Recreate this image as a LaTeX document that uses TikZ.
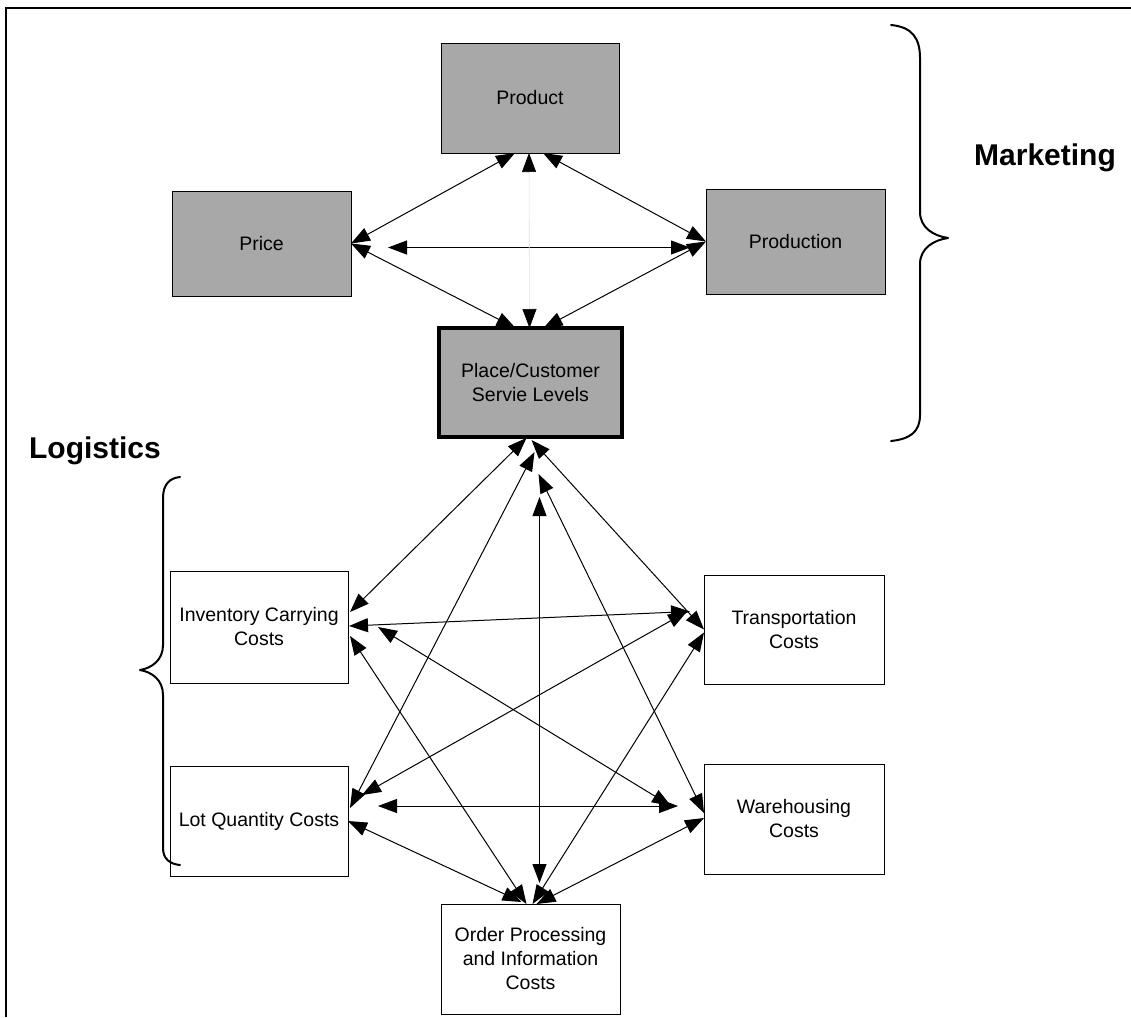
\documentclass[tikz,border=0pt]{standalone}
\usepackage{fontspec}
\setmainfont{Liberation Sans}
\usetikzlibrary{arrows.meta,calc}
\begin{document}
\begin{tikzpicture}[x=1pt,y=-1pt,
  box/.style={draw=black, line width=1pt, inner sep=0pt, outer sep=0pt, align=center,
              font=\fontsize{19.5}{24}\selectfont, fill=white},
  shaded/.style={box, fill=black!34},
  keybox/.style={shaded, line width=4pt},
  conn/.style={line width=1pt, {Triangle[length=19pt,width=14pt]}-{Triangle[length=19pt,width=14pt]}},
  faint/.style={line width=0.6pt, draw=black!12,
                {Triangle[length=19pt,width=14pt,color=black]}-{Triangle[length=19pt,width=14pt,color=black]}},
  heading/.style={font=\fontsize{30}{36}\selectfont\bfseries},
  brace/.style={line width=2pt, line cap=round, line join=round}]

% page area
\fill[white] (0,0) rectangle (1131,1017);
\useasboundingbox (0,0) rectangle (1131,1017);

% frame (top and left rules)
\draw[line width=1.8pt] (6,1017) -- (6,8) -- (1131,8);

% marketing mix boxes
\node[shaded, minimum width=178pt, minimum height=110pt] (product) at (530,98) {Product};
\node[shaded, minimum width=179pt, minimum height=105pt] (price) at (261.5,243.5) {Price};
\node[shaded, minimum width=179pt, minimum height=105pt] (production) at (795.5,241.5) {Production};
\node[keybox, minimum width=183pt, minimum height=109pt] (place) at (530.5,382.5) {Place/Customer\\Servie Levels};

% logistics cost boxes
\node[box, minimum width=178pt, minimum height=112pt] (inv) at (259,627) {Inventory Carrying\\Costs};
\node[box, minimum width=178pt, minimum height=110pt] (lot) at (259,821) {Lot Quantity Costs};
\node[box, minimum width=180pt, minimum height=109pt] (trans) at (794,629.5) {Transportation\\Costs};
\node[box, minimum width=180pt, minimum height=110pt] (ware) at (794,819) {Warehousing\\Costs};
\node[box, minimum width=179pt, minimum height=110pt] (order) at (530.5,959) {Order Processing\\and Information\\Costs};

% headings
\node[heading] (mkt) at (1045,158) {Marketing};
\node[heading] (log) at (95,451) {Logistics};

% braces
\draw[brace] (891,25) .. controls (912,27) and (920,38) .. (920,58) -- (920,212)
  .. controls (920,228) and (934,236) .. (948,238)
  .. controls (934,240) and (920,248) .. (920,264) -- (920,415)
  .. controls (920,432) and (910,439) .. (891,441);
\draw[brace] (180,477) .. controls (170,478) and (163,484) .. (163,498) -- (163,645)
  .. controls (163,660) and (152,668) .. (140,670)
  .. controls (152,672) and (163,680) .. (163,695) -- (163,848)
  .. controls (163,859) and (170,864) .. (180,865);

% marketing connectors
\draw[conn] (price.east) -- ($(product.south)+(-15,0)$);
\draw[conn] (production.west) -- ($(product.south)+(13,0)$);
\draw[conn] ($(price.east)+(37,4)$) -- ($(production.west)+(-16,6)$);
\draw[conn] (price.east) -- ($(place.north)+(-15,0)$);
\draw[conn] (production.west) -- ($(place.north)+(13,0)$);
\draw[faint] ($(product.south)+(-1,0)$) -- ($(place.north)+(-1,0)$);

% place to logistics connectors
\draw[conn] ($(place.south)+(-4,1)$) -- ($(inv.east)+(2,-15)$);
\draw[conn] ($(place.south)+(4,15)$) -- ($(lot.east)+(2,-13)$);
\draw[conn] ($(place.south)+(9,60)$) -- ($(order.north)+(9,-21)$);
\draw[conn] ($(place.south)+(1,3)$) -- (trans.west);
\draw[conn] ($(place.south)+(8,37)$) -- ($(ware.west)+(0,-6)$);

% connectors among logistics costs
\draw[conn] ($(inv.east)+(1,-1)$) -- ($(trans.west)+(-14,-18)$);
\draw[conn] ($(inv.east)+(30,0)$) -- ($(ware.west)+(-33,-13)$);
\draw[conn] ($(inv.east)+(2,9)$) -- ($(order.north)+(-4,0)$);
\draw[conn] ($(lot.east)+(14,-26)$) -- ($(trans.west)+(-17,-18)$);
\draw[conn] ($(lot.east)+(30,-15)$) -- ($(ware.west)+(-26,-13)$);
\draw[conn] (lot.east) -- ($(order.north)+(-9,-2)$);
\draw[conn] ($(trans.west)+(0,3)$) -- ($(order.north)+(2,0)$);
\draw[conn] ($(ware.west)+(0,-1)$) -- ($(order.north)+(6,0)$);

\end{tikzpicture}
\end{document}
